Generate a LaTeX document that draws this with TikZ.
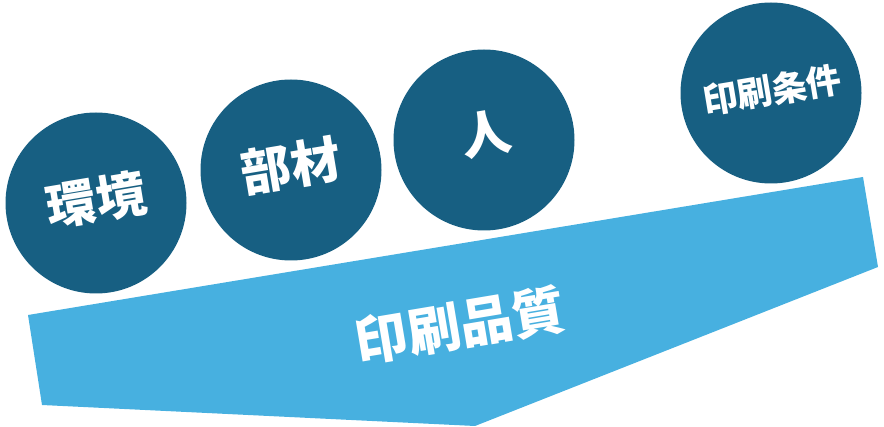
\documentclass[tikz,border=0pt]{standalone}
\usepackage{fontspec}
\newfontfamily\cjk{Noto Sans CJK JP}
\definecolor{darkc}{HTML}{175F82}
\definecolor{lightc}{HTML}{47B0E0}
\begin{document}
\begin{tikzpicture}[x=1pt,y=-1pt,
  ball/.style={circle,fill=darkc,minimum size=181pt,inner sep=0pt},
  lbl/.style={text=white,font=\cjk\bfseries,rotate=9.5,inner sep=0pt}]
\useasboundingbox (0,0) rectangle (884,427);
\fill[lightc] (28,315) -- (863,177) -- (878,267) -- (475,426) -- (42,405) -- cycle;
\node[ball] (c1) at (96,203) {};
\node[ball] (c2) at (291,170) {};
\node[ball] (c3) at (484,140) {};
\node[ball] (c4) at (771,93) {};
\node[lbl,font=\cjk\bfseries\fontsize{50}{50}\selectfont] (t1) at (96,200) {環境};
\node[lbl,font=\cjk\bfseries\fontsize{50}{50}\selectfont] (t2) at (291,166) {部材};
\node[lbl,font=\cjk\bfseries\fontsize{50}{50}\selectfont] (t3) at (486,134) {人};
\node[lbl,font=\cjk\bfseries\fontsize{35}{35}\selectfont] (t4) at (772,90) {印刷条件};
\node[lbl,font=\cjk\bfseries\fontsize{53}{53}\selectfont] (t5) at (460,325) {印刷品質};
\end{tikzpicture}
\end{document}
